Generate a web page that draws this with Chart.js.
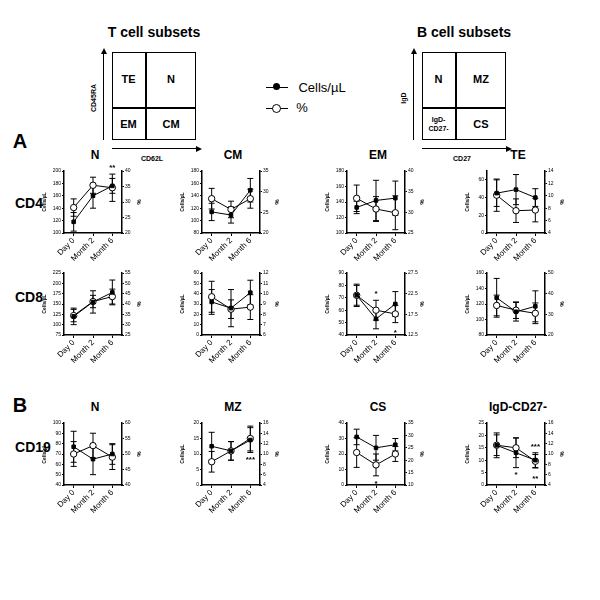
<!DOCTYPE html>
<html>
<head>
<meta charset="utf-8">
<script src="https://cdn.jsdelivr.net/npm/chart.js@4.4.0/dist/chart.umd.min.js"></script>
<style>
  body { margin:0; background:#fff; font-family:"Liberation Sans", Arial, sans-serif; }
  #wrap { position:relative; width:600px; height:600px; overflow:hidden; }
  .abs { position:absolute; }
  .b { font-weight:bold; color:#000; }
  canvas { position:absolute; }
  .cell { position:absolute; display:flex; align-items:center; justify-content:center; font-weight:bold; font-size:11px; text-align:center; line-height:9px; }
</style>
</head>
<body>
<div id="wrap"></div>
<script>
// time points
const timepoints = ['Day 0', 'Month 2', 'Month 6'];

// CD4 subsets  (cells/uL, % and their error bars)
const cd4N_cells = [118, 160, 176],  cd4N_cellsErr = [15, 20, 12];
const cd4N_pct   = [28.2, 35.4, 34.6], cd4N_pctErr = [2.8, 2.6, 4.4];
const cd4CM_cells = [114, 109, 149], cd4CM_cellsErr = [14, 13, 19];
const cd4CM_pct   = [28.3, 25.7, 28.3], cd4CM_pctErr = [2.5, 2.0, 2.3];
const cd4EM_cells = [133, 142, 145], cd4EM_cellsErr = [8, 26, 22];
const cd4EM_pct   = [33.4, 30.8, 29.9], cd4EM_pctErr = [3.2, 3.0, 4.1];
const cd4TE_cells = [45, 49, 40], cd4TE_cellsErr = [15, 17, 10];
const cd4TE_pct   = [10.1, 7.6, 7.7], cd4TE_pctErr = [2.6, 1.9, 1.9];

// CD8 subsets
const cd8N_cells = [120, 155, 178], cd8N_cellsErr = [20, 27, 30];
const cd8N_pct   = [34.4, 41.2, 43.6], cd8N_pctErr = [3.0, 3.0, 3.6];
const cd8CM_cells = [32, 26, 41], cd8CM_cellsErr = [12, 18, 12];
const cd8CM_pct   = [9.7, 8.5, 8.7], cd8CM_pctErr = [1.5, 0.9, 1.2];
const cd8EM_cells = [72, 53, 65], cd8EM_cellsErr = [9, 8, 10];
const cd8EM_pct   = [22.1, 18.5, 17.6], cd8EM_pctErr = [2.4, 2.4, 2.1];
const cd8TE_cells = [128, 110, 117], cd8TE_cellsErr = [25, 12, 20];
const cd8TE_pct   = [34.3, 32.0, 30.5], cd8TE_pctErr = [5, 4, 5];

// CD19 subsets
const cd19N_cells = [77, 65, 70], cd19N_cellsErr = [15, 15, 10];
const cd19N_pct   = [50, 52.7, 49], cd19N_pctErr = [4, 4, 4];
const cd19MZ_cells = [12.5, 11, 14.5], cd19MZ_cellsErr = [4.5, 3, 4];
const cd19MZ_pct   = [8.5, 10.6, 13], cd19MZ_pctErr = [2, 1.8, 2.4];
const cd19CS_cells = [31, 24, 26], cd19CS_cellsErr = [5, 8, 4];
const cd19CS_pct   = [23.1, 18.1, 22.5], cd19CS_pctErr = [6, 4.4, 3];
const cd19DN_cells = [16, 13, 10], cd19DN_cellsErr = [5, 6, 3];
const cd19DN_pct   = [11.7, 11.2, 8.6], cd19DN_pctErr = [2, 1.9, 1.3];

// axis ranges [min, max, step] : left = cells/uL, right = %
const cd4N_left = [100, 200, 20],  cd4N_right = [20, 40, 5];
const cd4CM_left = [80, 180, 20],  cd4CM_right = [20, 35, 5];
const cd4EM_left = [100, 180, 20], cd4EM_right = [25, 40, 5];
const cd4TE_left = [0, 70, 10],    cd4TE_right = [4, 14, 2];
const cd8N_left = [75, 225, 25],   cd8N_right = [25, 55, 5];
const cd8CM_left = [0, 60, 10],    cd8CM_right = [6, 12, 1];
const cd8EM_left = [40, 90, 10],   cd8EM_right = [12.5, 27.5, 5];
const cd8TE_left = [80, 160, 20],  cd8TE_right = [20, 50, 10];
const cd19N_left = [40, 100, 10],  cd19N_right = [40, 60, 5];
const cd19MZ_left = [0, 20, 5],    cd19MZ_right = [4, 16, 2];
const cd19CS_left = [0, 40, 10],   cd19CS_right = [10, 35, 5];
const cd19DN_left = [0, 25, 5],    cd19DN_right = [4, 16, 2];

// significance marks: [time index, value on cells axis, text]
const cd4N_stars = [[2, 205, '**']];
const cd8EM_stars = [[1, 73, '*'], [2, 42, '*']];
const cd19MZ_stars = [[2, 8, '***']];
const cd19CS_stars = [[1, 1, '*']];
const cd19DN_stars = [[1, 4, '*'], [2, 15.5, '***'], [2, 2.5, '**']];

const FONT = '"Liberation Sans", Arial, sans-serif';
const wrap = document.getElementById('wrap');

function addText(txt, x, y, size, opts) {
  opts = opts || {};
  const d = document.createElement('div');
  d.className = 'abs b';
  d.textContent = txt;
  d.style.fontSize = size + 'px';
  d.style.left = x + 'px';
  d.style.top = y + 'px';
  d.style.whiteSpace = 'nowrap';
  d.style.transform = 'translate(-50%,-50%)' + (opts.rot ? ' rotate(-90deg)' : '');
  if (opts.normal) d.style.fontWeight = 'normal';
  wrap.appendChild(d);
}

function addBox(x, y, w, h, style) {
  const d = document.createElement('div');
  d.className = 'abs';
  d.style.left = x + 'px'; d.style.top = y + 'px';
  d.style.width = w + 'px'; d.style.height = h + 'px';
  Object.assign(d.style, style || {});
  wrap.appendChild(d);
  return d;
}

// quadrant schematic
function schematic(x0, title, vLabel, hLabel, cells) {
  addText(title, x0 + 42, 32, 14);
  addBox(x0, 52, 84, 88, { border: '1.5px solid #000', boxSizing: 'border-box' });
  addBox(x0 + 33, 52, 1.5, 88, { background: '#000' });
  addBox(x0, 107, 84, 1.5, { background: '#000' });
  const pos = [[x0, 52, 33, 55], [x0 + 34, 52, 50, 55], [x0, 108, 33, 32], [x0 + 34, 108, 50, 32]];
  cells.forEach((c, i) => {
    const d = addBox(pos[i][0], pos[i][1], pos[i][2], pos[i][3]);
    d.className = 'cell';
    d.innerHTML = c;
    if (c.indexOf('<br>') >= 0) d.style.fontSize = '7px';
  });
  // arrows
  addBox(x0 - 9, 52, 1, 88, { background: '#000' });
  addBox(x0 - 11.5, 48, 0, 0, { borderLeft: '3px solid transparent', borderRight: '3px solid transparent', borderBottom: '6px solid #000' });
  addBox(x0, 148, 84, 1, { background: '#000' });
  addBox(x0 + 84, 145.5, 0, 0, { borderTop: '3px solid transparent', borderBottom: '3px solid transparent', borderLeft: '6px solid #000' });
  addText(vLabel, x0 - 19, 98, 7, { rot: true });
  addText(hLabel, x0 + 40, 158, 7);
}
schematic(112, 'T cell subsets', 'CD45RA', 'CD62L', ['TE', 'N', 'EM', 'CM']);
schematic(422, 'B cell subsets', 'IgD', 'CD27', ['N', 'MZ', 'IgD-<br>CD27-', 'CS']);

// legend
addBox(266, 86.5, 22, 1.5, { background: '#000' });
addBox(273, 83, 7, 7, { background: '#000', borderRadius: '50%' });
addBox(266, 107.5, 22, 1.5, { background: '#000' });
addBox(272, 103.5, 7, 7, { background: '#fff', border: '1.5px solid #000', borderRadius: '50%' });
addText('Cells/µL', 322, 87, 13, { normal: true });
addText('%', 302, 107, 13, { normal: true });

// panel and row labels
addText('A', 20, 141, 20);
addText('B', 20, 405, 20);
addText('CD4', 29, 203, 14);
addText('CD8', 29, 297, 14);
addText('CD19', 33, 447, 14);

// error bars + stars drawn through the chart scales
const errPlugin = {
  id: 'errbars',
  beforeDatasetsDraw(chart) {
    const ctx = chart.ctx;
    const xs = chart.scales.x;
    ctx.save();
    ctx.strokeStyle = '#000';
    ctx.lineWidth = 1;
    chart.data.datasets.forEach(ds => {
      const ys = chart.scales[ds.yAxisID];
      ds.data.forEach((v, i) => {
        const e = ds.err[i];
        const x = xs.getPixelForValue(i);
        const y1 = ys.getPixelForValue(v - e), y2 = ys.getPixelForValue(v + e);
        ctx.beginPath();
        ctx.moveTo(x, y1); ctx.lineTo(x, y2);
        ctx.moveTo(x - 3, y1); ctx.lineTo(x + 3, y1);
        ctx.moveTo(x - 3, y2); ctx.lineTo(x + 3, y2);
        ctx.stroke();
      });
    });
    ctx.restore();
  },
  afterDatasetsDraw(chart) {
    const stars = chart.options.plugins.errbars.stars || [];
    const ctx = chart.ctx;
    ctx.save();
    ctx.fillStyle = '#000';
    ctx.font = 'bold 8px ' + FONT;
    ctx.textAlign = 'center';
    ctx.textBaseline = 'middle';
    stars.forEach(s => {
      ctx.fillText(s[2], chart.scales.x.getPixelForValue(s[0]), chart.scales.y.getPixelForValue(s[1]));
    });
    ctx.restore();
  }
};

const colLeft = [64, 202, 347, 487];
const rowTop = [171, 273, 423];
const plotW = 58, plotH = 62;
const leftW = 22, rightW = 20;

function axis(pos, range, title, width) {
  return {
    position: pos,
    min: range[0], max: range[1],
    ticks: { stepSize: range[2], font: { size: 5, family: FONT }, color: '#000', padding: 1 },
    grid: { drawOnChartArea: false, tickLength: 2, color: '#000' },
    border: { color: '#000', width: 1.5 },
    title: { display: true, text: title, font: { size: pos === 'left' ? 5 : 6, weight: 'bold', family: FONT }, color: '#000', padding: 0 },
    afterFit(s) { s.width = width; }
  };
}

function panel(row, col, title, cells, cellsErr, pct, pctErr, left, right, stars) {
  const c = document.createElement('canvas');
  const W = plotW + leftW + rightW, H = plotH + 6 + 38;
  c.width = W; c.height = H;
  c.style.left = (colLeft[col] - leftW) + 'px';
  c.style.top = (rowTop[row] - 6) + 'px';
  wrap.appendChild(c);
  if (title) addText(title, colLeft[col] + plotW / 2 + 2, rowTop[row] - 16, 12);
  new Chart(c.getContext('2d'), {
    type: 'line',
    data: {
      labels: timepoints,
      datasets: [
        { label: 'Cells/µL', data: cells, err: cellsErr, yAxisID: 'y', borderColor: '#000', borderWidth: 1,
          pointStyle: 'rect', pointRadius: 2.5, pointBackgroundColor: '#000', pointBorderColor: '#000' },
        { label: '%', data: pct, err: pctErr, yAxisID: 'y1', borderColor: '#000', borderWidth: 1,
          pointStyle: 'circle', pointRadius: 3.2, pointBackgroundColor: '#fff', pointBorderColor: '#000', pointBorderWidth: 1 }
      ]
    },
    options: {
      responsive: false,
      animation: false,
      layout: { padding: { top: 6, left: 0, right: 0, bottom: 0 } },
      plugins: { legend: { display: false }, tooltip: { enabled: false }, errbars: { stars: stars || [] } },
      scales: {
        x: {
          offset: true,
          grid: { drawOnChartArea: false, offset: false, tickLength: 3, color: '#000' },
          border: { color: '#000', width: 1.5 },
          ticks: { minRotation: 45, maxRotation: 45, font: { size: 8, family: FONT }, color: '#000', padding: 0 },
          afterFit(s) { s.height = 38; }
        },
        y: axis('left', left, 'Cells/µL', leftW),
        y1: axis('right', right, '%', rightW)
      }
    },
    plugins: [errPlugin]
  });
}

panel(0, 0, 'N',  cd4N_cells,  cd4N_cellsErr,  cd4N_pct,  cd4N_pctErr,  cd4N_left,  cd4N_right,  cd4N_stars);
panel(0, 1, 'CM', cd4CM_cells, cd4CM_cellsErr, cd4CM_pct, cd4CM_pctErr, cd4CM_left, cd4CM_right);
panel(0, 2, 'EM', cd4EM_cells, cd4EM_cellsErr, cd4EM_pct, cd4EM_pctErr, cd4EM_left, cd4EM_right);
panel(0, 3, 'TE', cd4TE_cells, cd4TE_cellsErr, cd4TE_pct, cd4TE_pctErr, cd4TE_left, cd4TE_right);

panel(1, 0, null, cd8N_cells,  cd8N_cellsErr,  cd8N_pct,  cd8N_pctErr,  cd8N_left,  cd8N_right);
panel(1, 1, null, cd8CM_cells, cd8CM_cellsErr, cd8CM_pct, cd8CM_pctErr, cd8CM_left, cd8CM_right);
panel(1, 2, null, cd8EM_cells, cd8EM_cellsErr, cd8EM_pct, cd8EM_pctErr, cd8EM_left, cd8EM_right, cd8EM_stars);
panel(1, 3, null, cd8TE_cells, cd8TE_cellsErr, cd8TE_pct, cd8TE_pctErr, cd8TE_left, cd8TE_right);

panel(2, 0, 'N',  cd19N_cells,  cd19N_cellsErr,  cd19N_pct,  cd19N_pctErr,  cd19N_left,  cd19N_right);
panel(2, 1, 'MZ', cd19MZ_cells, cd19MZ_cellsErr, cd19MZ_pct, cd19MZ_pctErr, cd19MZ_left, cd19MZ_right, cd19MZ_stars);
panel(2, 2, 'CS', cd19CS_cells, cd19CS_cellsErr, cd19CS_pct, cd19CS_pctErr, cd19CS_left, cd19CS_right, cd19CS_stars);
panel(2, 3, 'IgD-CD27-', cd19DN_cells, cd19DN_cellsErr, cd19DN_pct, cd19DN_pctErr, cd19DN_left, cd19DN_right, cd19DN_stars);
</script>
</body>
</html>
